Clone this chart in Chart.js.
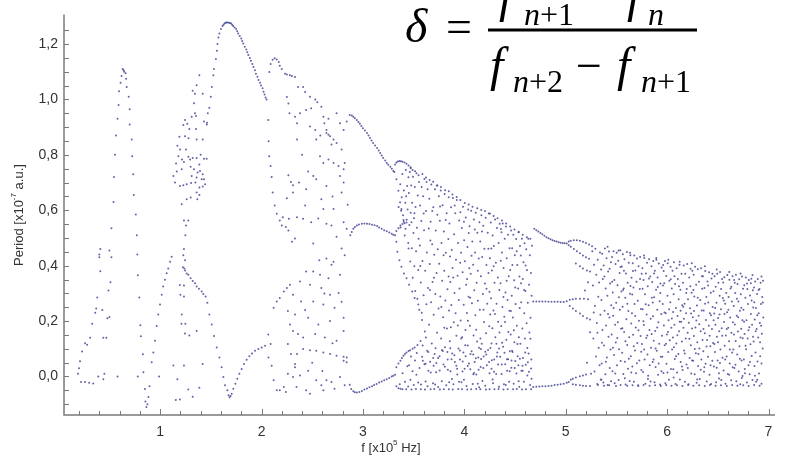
<!DOCTYPE html>
<html><head><meta charset="utf-8">
<script src="https://cdn.jsdelivr.net/npm/chart.js@4.4.1/dist/chart.umd.min.js"></script>
<style>html,body{margin:0;padding:0;background:#fff}#wrap{position:relative;width:787px;height:457px}</style>
</head><body><div id="wrap"><canvas id="c"></canvas></div>
<script>
// ---- data (x in 10^5 Hz, y = period in 10^-7 a.u.), flat [x,y, x,y, ...] ----
const loop1 = [.19,.01,.20,.03,.21,.055,.23,.09,.26,.12,.28,.115,.31,.14,.33,.19,.36,.23,.37,.245,.38,.285,.41,.38,.40,.44,.41,.46,.40,.43,.43,.24,.44,.14,.47,.14,.45,.01,.44,-.01,.48,.21,.50,.215,.49,.31,.51,.34,.52,.43,.50,.455,.22,-.02,.26,-.02,.30,-.023,.34,-.025,.39,0,.58,0,.78,0,.99,0];
const spike = [.52,.535,.54,.63,.545,.72,.555,.80,.565,.87,.58,.93,.59,.98,.595,1.03,.61,1.06,.62,1.085,.63,1.11,.64,1.105,.645,1.10,.66,1.095,.665,1.075,.67,1.045,.69,1.01,.70,.965,.70,.91,.72,.855,.725,.795,.735,.73,.74,.655,.76,.585,.77,.51,.775,.44,.78,.365,.795,.285,.805,.185,.81,.145,.83,.08,.835,.015,.85,-.045,.855,-.09,.865,-.11,.875,-.10,.885,-.074,.895,-.035,.917,.051,.933,.087,.95,.129,.966,.182,.982,.224,.999,.26,1.016,.295,1.03,.325,1.048,.349,1.065,.373,1.08,.39,1.098,.414,1.114,.432];
const cloud2up = [1.387,1.087,1.36,1.051,1.321,1.031,1.344,1.021,1.42,1.021,1.334,.986,1.344,.95,1.354,.94,1.246,.926,1.311,.938,1.268,.912,1.433,.92,1.462,.916,1.229,.908,1.288,.893,1.354,.893,1.19,.865,1.246,.867,1.36,.855,1.42,.855,1.17,.833,1.196,.819,1.255,.819,1.18,.795,1.157,.769,1.216,.783,1.235,.774,1.278,.793,1.295,.783,1.321,.789,1.36,.789,1.387,.765,1.433,.786,1.459,.786,1.213,.748,1.301,.757,1.334,.748,1.37,.736,1.393,.742,1.42,.73,1.131,.724,1.311,.724,1.36,.718,1.41,.712,1.433,.712,1.443,.694,1.42,.686,1.387,.682,1.348,.70,1.305,.698,1.262,.694,1.229,.69,1.196,.688,1.36,.664,1.387,.655,1.367,.64,1.301,.646,1.262,.64,1.213,.622,1.278,.563,1.235,.563,1.255,.545,1.249,.51,1.147,.70,1.164,.74,1.40,.80,1.28,.86];
const cloud2low = [1.229,.438,1.246,.42,1.235,.46,1.2,.295,1.235,.289,1.213,.224,1.249,.19,1.288,.148,1.36,.164,1.42,.045,1.131,.04,1.235,.04,1.155,-.085,1.195,-.083,1.278,-.047,1.321,-.073,1.387,-.041,1.21,.19,1.245,.155,1.195,.33,1.235,.328,1.17,-.01];
const bigArc = [1.46,.91,1.47,.95,1.485,.97,1.50,1.01,1.51,1.045,1.525,1.087,1.53,1.11,1.55,1.146,1.56,1.176,1.565,1.20,1.575,1.224,1.585,1.238,1.60,1.254,1.615,1.265,1.625,1.27,1.635,1.274,1.645,1.277,1.655,1.278,1.665,1.278,1.68,1.277,1.69,1.276,1.70,1.274,1.71,1.27,1.72,1.265,1.735,1.26,1.75,1.254,1.76,1.246,1.77,1.238,1.785,1.229,1.80,1.22,1.81,1.211,1.82,1.202,1.835,1.19,1.85,1.18,1.86,1.17,1.87,1.16,1.885,1.15,1.895,1.14,1.91,1.128,1.92,1.117,1.935,1.105,1.945,1.093,1.96,1.082,1.97,1.07,1.985,1.06,1.995,1.05,2.01,1.04,2.02,1.028,2.03,1.018,2.04,1.007,2.05,1.0];
const vCurve = [1.225,.394,1.239,.39,1.246,.383,1.262,.372,1.278,.367,1.301,.355,1.321,.345,1.344,.337,1.36,.325,1.383,.317,1.41,.307,1.426,.298,1.449,.289,1.466,.266,1.486,.224,1.509,.188,1.532,.146,1.558,.105,1.585,.069,1.607,.033,1.624,-.002,1.64,-.032,1.663,-.05,1.675,-.068,1.685,-.075,1.695,-.07,1.706,-.062,1.722,-.044,1.742,-.026,1.761,-.008,1.781,.01,1.804,.027,1.827,.045,1.854,.06,1.88,.073,1.906,.083,1.936,.093,1.969,.099,2.002,.105,2.035,.111];
const arc2 = [2.077,1.099,2.09,1.128,2.11,1.143,2.13,1.149,2.15,1.144,2.17,1.135,2.18,1.122,2.20,1.11];
const cloud3up = [2.067,.926,2.07,.849,2.075,.795,2.09,.76,2.10,.72,2.11,.664,2.13,.617,2.15,.587,2.18,.563,2.20,.545,2.24,.54,2.265,.527,2.30,.486,2.21,.575,2.27,.569,2.232,1.093,2.25,1.09,2.28,1.087,2.30,1.085,2.33,1.081,2.36,1.045,2.25,1.009,2.276,.95,2.33,.938,2.35,.914,2.265,.985,2.35,.855,2.265,.726,2.29,.702,2.31,.69,2.25,.643,2.41,1.045,2.43,1.027,2.478,1.01,2.53,1.0,2.55,.99,2.59,.974,2.61,.938,2.62,.914,2.64,.89,2.66,.873,2.71,.855,2.774,.914,2.81,.89,2.84,.92,2.38,.95,2.44,.962,2.49,.968,2.478,.902,2.53,.89,2.54,.855,2.64,.879,2.676,.867,2.69,.837,2.74,.843,2.79,.819,2.82,.771,2.577,.795,2.61,.771,2.66,.783,2.71,.771,2.76,.76,2.81,.748,2.51,.724,2.54,.712,2.774,.724,2.81,.70,2.64,.688,2.31,.664,2.43,.617,2.44,.676,2.59,.64,2.61,.605,2.71,.605,2.79,.664,2.35,.575,2.41,.569,2.49,.557,2.64,.551,2.69,.545,2.81,.557,2.84,.533,2.33,.498,2.51,.48,2.74,.504,2.79,.462,2.82,.438,2.40,.80,2.46,.74,2.56,.57,2.70,.65,2.85,.62,2.37,.70,2.58,.87,2.74,.95,2.66,.93];
const cloud3low = [2.067,.152,2.09,.117,2.068,.069,2.10,.039,2.12,-.014,2.15,-.05,2.18,-.05,2.22,-.038,2.24,-.056,2.12,.248,2.15,.271,2.18,.283,2.22,.307,2.25,.319,2.28,.331,2.26,.236,2.28,.188,2.31,.164,2.26,.117,2.29,.081,2.33,.045,2.26,.01,2.31,-.002,2.345,-.038,2.64,.426,2.71,.414,2.69,.403,2.44,.379,2.51,.379,2.577,.367,2.66,.355,2.774,.367,2.38,.343,2.478,.331,2.59,.319,2.676,.295,2.76,.301,2.31,.295,2.39,.271,2.51,.271,2.61,.26,2.72,.248,2.33,.224,2.46,.212,2.56,.188,2.676,.20,2.81,.164,2.36,.153,2.41,.141,2.53,.153,2.625,.141,2.74,.129,2.81,.212,2.41,.099,2.478,.095,2.54,.093,2.61,.087,2.676,.081,2.74,.075,2.81,.071,2.84,.069,2.35,.081,2.33,.033,2.38,.004,2.46,.021,2.54,-.014,2.59,-.032,2.64,-.014,2.72,-.044,2.774,-.002,2.82,-.032,2.44,-.05,2.478,-.062,2.61,-.05,2.69,-.02,2.81,.057,2.84,.051,2.43,.24,2.57,.42,2.62,.30,2.79,.27,2.70,.12,2.50,.05,2.60,.02];
const arc3 = [2.87,.944,2.89,.942,2.905,.938,2.92,.932,2.94,.926,2.955,.919,2.97,.912,2.985,.904,3.0,.896,3.02,.888,3.04,.879,3.055,.87,3.07,.861,3.085,.852,3.10,.843,3.12,.834,3.14,.825,3.155,.816,3.17,.807,3.185,.798,3.20,.789,3.22,.78,3.235,.771,3.25,.764,3.27,.757,3.285,.75,3.30,.742,3.31,.738,3.317,.765,3.33,.772,3.345,.776,3.36,.778,3.375,.777,3.39,.775,3.41,.772,3.43,.768,3.45,.762,3.47,.755,3.49,.745,3.33,.712,3.35,.67,3.366,.629,3.38,.605,3.40,.565,3.42,.533,3.45,.462];
const mid3 = [2.875,.51,2.89,.522,2.905,.533,2.92,.54,2.94,.545,2.96,.549,2.99,.551,3.015,.552,3.04,.551,3.065,.55,3.09,.548,3.115,.546,3.14,.543,3.16,.538,3.185,.533,3.21,.528,3.235,.524,3.26,.52,3.284,.515,3.30,.512,3.317,.51,3.33,.525,3.35,.535,3.37,.545,3.39,.55,3.41,.553,3.43,.556,3.33,.486,3.34,.45,3.36,.42,3.38,.396,3.405,.372,3.43,.355,3.455,.331,3.486,.307,3.51,.283,3.546,.26,3.58,.23];
const bot3 = [2.87,-.03,2.885,-.045,2.905,-.053,2.92,-.057,2.94,-.058,2.965,-.056,2.99,-.052,3.015,-.047,3.04,-.043,3.065,-.039,3.09,-.035,3.11,-.031,3.135,-.027,3.16,-.022,3.185,-.018,3.21,-.014,3.235,-.01,3.26,-.005,3.284,0,3.30,.003,3.317,.006,3.33,.033,3.35,.047,3.37,.057,3.385,.067,3.40,.075,3.415,.081,3.43,.087,3.45,.092,3.465,.095,3.49,.10,3.51,.105,3.33,-.035,3.35,-.042,3.37,-.044,3.39,-.046];
const chaos4a = [3.352,.612,3.368,.694,3.371,.538,3.383,.647,3.389,.731,3.396,.582,3.404,.671,3.412,.509,3.418,.627,3.423,.745,3.431,.566,3.436,.688,3.441,.603,3.447,.482,3.449,.719,3.377,.598,3.402,.559,3.427,.651,3.363,-.028,3.391,.012,3.415,-.019,3.438,.037,3.446,-.036,
3.453,.662,3.458,.547,3.462,.738,3.467,.415,3.471,.591,3.476,.689,3.482,.463,3.486,.627,3.491,.356,3.494,.721,3.498,.518,3.503,.571,3.507,.398,3.512,.684,3.516,.309,3.519,.612,3.524,.452,3.528,.734,3.533,.537,3.537,.281,3.541,.653,3.546,.384,3.549,.497,3.455,.041,3.468,-.012,3.474,.072,3.489,.019,3.501,-.031,3.514,.058,3.527,.006,3.538,.114,3.545,-.022,3.531,.085,3.508,.589,3.479,.557,
3.553,.702,3.556,.241,3.561,.473,3.564,.617,3.568,.128,3.571,.339,3.576,.561,3.579,.684,3.583,.204,3.587,.417,3.591,.057,3.594,.651,3.598,.293,3.603,.528,3.606,.713,3.611,.162,3.614,.382,3.618,-.018,3.622,.597,3.626,.261,3.631,.448,3.634,.093,3.638,.676,3.642,.319,3.646,.021,3.649,.534,3.558,.031,3.573,-.029,3.589,.112,3.607,.044,3.621,.141,3.637,-.035,3.599,.588,3.627,.702,3.566,.399];
const chaos4b = [3.652,.187,3.655,.642,3.659,.406,3.663,.053,3.668,.559,3.672,.268,3.675,.693,3.679,.119,3.683,.477,3.687,.341,3.691,-.024,3.694,.611,3.698,.223,3.703,.439,3.707,.081,3.711,.676,3.714,.298,3.718,.527,3.722,.015,3.726,.374,3.731,.158,3.734,.584,3.738,.459,3.742,-.038,3.746,.245,3.749,.651,3.661,.312,3.684,.597,3.697,.039,3.716,.102,3.729,.689,3.741,.067,3.665,.491,3.701,.356,
3.752,.407,3.756,.073,3.759,.562,3.763,.289,3.767,.671,3.771,.137,3.775,.482,3.778,-.017,3.782,.346,3.786,.618,3.791,.214,3.794,.043,3.798,.523,3.802,.382,3.806,.659,3.809,.106,3.813,.274,3.818,.447,3.822,-.032,3.826,.589,3.829,.173,3.834,.315,3.838,.024,3.842,.496,3.846,.647,3.849,.238,3.761,.614,3.788,.092,3.803,.176,3.817,.565,3.833,.088,3.845,.361,3.773,.251,3.796,.438,
3.853,.552,3.857,.127,3.861,.341,3.864,.019,3.869,.611,3.872,.258,3.876,.457,3.881,.083,3.884,.392,3.888,.644,3.892,-.028,3.896,.196,3.899,.513,3.903,.301,3.907,.052,3.911,.589,3.914,.228,3.918,.421,3.922,.147,3.926,.637,3.931,.007,3.934,.364,3.938,.482,3.942,.101,3.946,.276,3.949,.563,3.859,.433,3.874,.062,3.891,.357,3.905,.617,3.921,.039,3.936,.184,3.948,-.019,3.867,.178];
const chaos4c = [3.953,.318,3.956,.061,3.961,.593,3.964,.202,3.968,.447,3.972,-.021,3.976,.536,3.979,.142,3.983,.376,3.987,.613,3.991,.087,3.994,.259,3.998,.492,4.003,.028,4.006,.416,4.011,.168,4.014,.574,4.018,.331,4.022,-.034,4.026,.229,4.031,.467,4.034,.112,4.038,.603,4.042,.288,4.046,.047,4.049,.391,3.959,.411,3.982,.018,3.996,.559,4.013,.073,4.027,.352,4.044,.518,3.969,.137,4.035,.201,
4.052,.542,4.055,.183,4.059,.026,4.063,.371,4.068,.598,4.072,.091,4.075,.264,4.079,.487,4.083,-.027,4.087,.403,4.091,.148,4.094,.567,4.098,.311,4.102,.052,4.106,.448,4.109,.221,4.113,.591,4.118,.007,4.122,.338,4.126,.126,4.129,.519,4.134,.273,4.138,.069,4.142,.426,4.146,-.039,4.149,.557,4.058,.284,4.071,.436,4.088,.079,4.103,.531,4.117,.169,4.133,.382,4.145,.104,4.096,.013,
4.153,.241,4.157,.487,4.161,.034,4.164,.362,4.168,.582,4.172,.118,4.176,.431,4.179,-.016,4.183,.298,4.187,.544,4.191,.072,4.194,.197,4.198,.461,4.203,.336,4.206,-.033,4.211,.573,4.214,.156,4.218,.402,4.222,.041,4.226,.263,4.231,.519,4.234,.096,4.238,.374,4.242,.588,4.246,.181,4.249,.012,4.159,.137,4.174,.523,4.189,.241,4.207,.089,4.219,.317,4.237,.461,4.248,.306,4.166,.063];
const chaos4d = [4.253,.427,4.257,.103,4.261,.556,4.264,.282,4.268,.028,4.272,.383,4.276,.174,4.279,.509,4.283,-.024,4.287,.238,4.291,.471,4.294,.061,4.298,.338,4.303,.567,4.306,.142,4.311,.411,4.314,.009,4.318,.263,4.322,.536,4.326,.087,4.331,.357,4.334,.198,4.338,.482,4.342,-.037,4.346,.312,4.349,.551,4.256,.224,4.271,.059,4.289,.398,4.302,.226,4.317,.118,4.333,.043,4.347,.159,4.266,.462,
4.353,.071,4.357,.337,4.361,.532,4.364,.182,4.368,.009,4.372,.448,4.376,.251,4.379,.552,4.383,.107,4.387,.392,4.391,-.028,4.394,.216,4.398,.497,4.403,.044,4.406,.303,4.411,.541,4.414,.133,4.418,.427,4.422,.021,4.426,.276,4.431,.512,4.434,.161,4.438,.362,4.442,-.019,4.446,.463,4.449,.091,4.359,.418,4.373,.122,4.386,.287,4.401,.197,4.417,.346,4.432,.062,4.445,.237,4.367,.521,
4.453,.384,4.457,.152,4.461,.527,4.464,.032,4.468,.291,4.472,.463,4.476,.088,4.479,.213,4.483,.512,4.487,-.026,4.491,.347,4.494,.124,4.498,.438,4.503,.056,4.506,.262,4.511,.496,4.514,.011,4.518,.183,4.522,.402,4.526,.073,4.531,.318,4.534,.521,4.538,.142,4.542,-.037,4.546,.247,4.549,.471,4.459,.236,4.474,.402,4.488,.167,4.502,.321,4.517,.452,4.533,.041,4.544,.361,4.466,.058,
4.553,.118,4.557,.437,4.561,.268,4.564,.021,4.568,.497,4.572,.173,4.576,.352,4.579,.067,4.583,.412,4.587,-.019,4.591,.228,4.594,.481,4.598,.137,4.603,.309,4.606,.042,4.611,.459,4.614,.192,4.618,.384,4.622,.004,4.626,.266,4.631,.497,4.634,.083,4.638,.331,4.642,.159,4.646,.438,4.649,-.031,4.653,.212,4.657,.374,4.661,.061,4.664,.291,4.668,.472,4.559,.337,4.575,.021,4.589,.312,4.604,.401,4.621,.103,4.637,.017,4.652,.136];
const band4 = [3.583,.071,3.617,.046,3.644,.088,3.669,.014,3.693,.067,3.724,.049,3.757,.022,3.779,.096,3.808,.035,3.836,.061,3.862,.102,3.878,-.009,3.902,.077,3.929,.028,3.957,.094,3.984,.054,4.009,.113,4.033,.038,4.061,.081,4.089,.008,4.114,.066,4.141,.024,4.163,.099,4.188,.031,4.216,.079,4.244,.052,4.268,.119,4.293,.017,4.321,.072,4.343,.101,4.369,.043,4.396,.086,4.421,.062,4.448,.019,4.471,.093,4.497,.031,4.523,.117,4.548,.064,4.574,.039,4.601,.087,4.627,.051,4.658,.029,3.712,-.029,3.851,-.021,3.996,-.012,4.133,-.026,4.279,-.011,4.409,-.031,4.536,-.017,4.663,-.008,
3.472,.752,3.514,.741,3.548,.726,3.587,.731,3.622,.718,3.658,.709,3.693,.703,3.735,.689,3.769,.684,3.811,.672,3.847,.669,3.883,.657,3.924,.648,3.961,.637,4.004,.626,4.043,.621,4.081,.613,4.127,.607,4.167,.601,4.204,.597,4.252,.588,4.289,.579,4.327,.571,4.371,.563,4.413,.552,4.452,.541,4.494,.531,4.538,.522,4.576,.512,4.617,.503,4.651,.497];
const floor4 = [3.427,-.046,3.479,-.047,3.523,-.045,3.571,-.046,3.612,-.047,3.668,-.046,3.704,-.045,3.759,-.047,3.798,-.046,3.847,-.046,3.886,-.047,3.941,-.045,3.977,-.046,4.029,-.047,4.068,-.046,4.117,-.045,4.158,-.046,4.213,-.047,4.249,-.046,4.297,-.046,4.338,-.045,4.386,-.047,4.428,-.046,4.481,-.046,4.517,-.045,4.569,-.047,4.608,-.046,4.659,-.046];
const win5 = [4.69,.533,4.71,.528,4.73,.523,4.75,.518,4.77,.513,4.79,.508,4.81,.503,4.83,.499,4.85,.495,4.87,.492,4.89,.489,4.91,.487,4.93,.485,4.95,.483,4.97,.482,4.99,.481,5.01,.48,5.03,.487,5.05,.49,5.08,.492,5.11,.492,5.14,.49,5.17,.486,5.20,.482,5.23,.476,5.26,.47,5.03,.474,5.05,.468,5.08,.46,5.11,.452,5.14,.445,5.17,.437,5.20,.43,5.23,.425,5.10,.408,5.14,.398,5.17,.39,5.21,.383,5.24,.379,4.68,.271,4.71,.271,4.74,.271,4.77,.271,4.80,.271,4.83,.27,4.86,.27,4.89,.27,4.92,.27,4.95,.269,4.98,.269,5.01,.272,5.04,.277,5.07,.279,5.10,.281,5.14,.281,5.18,.281,5.22,.279,5.04,.254,5.07,.245,5.10,.236,5.14,.227,5.17,.218,5.21,.21,5.24,.206,4.68,-.038,4.71,-.037,4.74,-.036,4.77,-.035,4.80,-.035,4.83,-.034,4.86,-.033,4.89,-.031,4.92,-.03,4.95,-.028,4.98,-.026,5.01,-.023,5.03,-.02,5.05,-.012,5.07,-.008,5.10,-.004,5.14,.001,5.17,.004,5.20,.007,5.25,.01,5.07,-.028,5.10,-.03,5.14,-.032,5.17,-.033,5.20,-.034,5.24,-.034,5.19,.31,5.22,.34,5.24,.16,5.21,.05];
const chaos5a = [5.262,.452,5.268,.328,5.273,.137,5.279,.403,5.284,.018,5.288,.254,5.293,.461,5.298,.072,5.302,.367,5.307,.193,5.311,-.027,5.316,.421,5.321,.288,5.325,.104,5.329,.339,5.334,.041,5.338,.448,5.342,.223,5.346,-.011,5.349,.386,5.313,.158,5.276,.231,
5.352,.276,5.355,.047,5.359,.443,5.362,.168,5.366,.352,5.371,-.022,5.374,.401,5.378,.112,5.383,.237,5.386,.462,5.391,.008,5.394,.318,5.398,.184,5.403,.427,5.406,.069,5.411,.291,5.414,-.031,5.418,.379,5.422,.143,5.426,.451,5.431,.213,5.434,.031,5.438,.336,5.442,.097,5.446,.412,5.449,.257,5.357,.122,5.381,.361,5.396,.053,5.417,.226,5.433,.389,5.447,-.017,
5.453,.152,5.457,.431,5.461,.019,5.464,.303,5.468,.219,5.472,.452,5.476,.078,5.479,.348,5.483,-.024,5.487,.187,5.491,.406,5.494,.123,5.498,.266,5.503,.447,5.506,.041,5.511,.329,5.514,.196,5.518,.418,5.522,-.013,5.526,.098,5.531,.374,5.534,.241,5.538,.456,5.542,.056,5.546,.172,5.549,.307,5.458,.342,5.473,.247,5.489,.011,5.509,.139,5.524,.286,5.541,.395,5.466,.104,
5.553,.397,5.557,.086,5.561,.252,5.564,.441,5.568,.009,5.572,.318,5.576,.161,5.579,.423,5.583,.053,5.587,.284,5.591,-.029,5.594,.372,5.598,.207,5.603,.449,5.606,.114,5.611,.338,5.614,.028,5.618,.236,5.622,.411,5.626,.142,5.631,-.016,5.634,.299,5.638,.438,5.642,.073,5.646,.191,5.649,.356,5.559,.174,5.574,.382,5.589,.127,5.608,.263,5.623,.064,5.639,.327,5.647,.014,5.566,.312];
const chaos5b = [5.653,.228,5.657,.036,5.661,.409,5.664,.151,5.668,.321,5.672,-.019,5.676,.437,5.679,.262,5.683,.094,5.687,.383,5.691,.177,5.694,.012,5.698,.342,5.703,.426,5.706,.121,5.711,.273,5.714,-.032,5.718,.398,5.722,.201,5.726,.058,5.731,.316,5.734,.431,5.738,.146,5.742,.244,5.746,.023,5.749,.371,5.656,.296,5.671,.109,5.686,.218,5.702,.048,5.717,.167,5.733,.352,5.745,.089,5.663,.381,
5.752,.117,5.756,.391,5.759,.243,5.763,.016,5.767,.348,5.771,.186,5.775,.428,5.778,.061,5.782,.297,5.786,-.026,5.791,.372,5.794,.139,5.798,.224,5.802,.411,5.806,.079,5.809,.326,5.813,.003,5.818,.257,5.822,.423,5.826,.168,5.829,.041,5.834,.361,5.838,.208,5.842,.104,5.846,.398,5.849,.284,5.758,.317,5.773,.097,5.789,.261,5.804,.148,5.821,.354,5.837,-.018,5.848,.153,5.766,.199,
5.853,.341,5.857,.052,5.861,.217,5.864,.417,5.868,.129,5.872,.286,5.876,-.021,5.879,.382,5.883,.164,5.887,.034,5.891,.313,5.894,.421,5.898,.093,5.903,.241,5.906,.357,5.911,.006,5.914,.196,5.918,.408,5.922,.118,5.926,.272,5.931,-.029,5.934,.336,5.938,.071,5.942,.226,5.946,.393,5.949,.147,5.859,.267,5.871,.372,5.886,.101,5.902,.177,5.917,.047,5.933,.301,5.944,.019,5.866,.061,5.908,.323,
5.953,.071,5.957,.262,5.961,.402,5.964,.013,5.968,.184,5.972,.337,5.976,.113,5.979,.417,5.983,-.024,5.987,.228,5.991,.363,5.994,.046,5.998,.152,6.003,.291,6.006,.409,6.011,.088,6.014,.203,6.018,-.012,6.022,.346,6.026,.131,6.031,.268,6.034,.396,6.038,.027,6.042,.176,6.046,.318,6.049,.097,5.959,.328,5.974,.231,5.989,.118,6.004,.014,6.019,.243,6.036,.351,6.047,.209,5.966,.381,6.009,.161];
const chaos5c = [6.053,.382,6.057,.141,6.061,.026,6.064,.297,6.068,.412,6.072,.187,6.076,.063,6.079,.334,6.083,-.027,6.087,.247,6.091,.119,6.094,.391,6.098,.014,6.103,.218,6.106,.352,6.111,.081,6.114,.279,6.118,.163,6.122,.403,6.126,-.011,6.131,.313,6.134,.052,6.138,.198,6.142,.371,6.146,.126,6.149,.257,6.059,.233,6.073,.362,6.088,.073,6.101,.149,6.117,.326,6.133,.237,6.147,.036,6.067,.106,6.124,.198,
6.153,.023,6.157,.338,6.161,.176,6.164,.401,6.168,.094,6.172,.263,6.176,-.019,6.179,.371,6.183,.137,6.187,.228,6.191,.043,6.194,.316,6.198,.406,6.203,.158,6.206,.279,6.211,-.028,6.214,.194,6.218,.357,6.222,.067,6.226,.246,6.231,.389,6.234,.113,6.238,.011,6.242,.302,6.246,.173,6.249,.382,6.159,.252,6.174,.083,6.189,.301,6.204,.031,6.219,.136,6.236,.227,6.247,.058,6.166,.208,6.229,.326,
6.253,.214,6.257,.057,6.261,.367,6.264,.146,6.268,.289,6.272,.008,6.276,.396,6.279,.177,6.283,.084,6.287,.331,6.291,-.023,6.294,.256,6.298,.124,6.303,.387,6.306,.038,6.311,.219,6.314,.342,6.318,.101,6.322,-.009,6.326,.276,6.331,.163,6.334,.391,6.338,.061,6.342,.238,6.346,.317,6.349,.132,6.259,.312,6.273,.099,6.288,.202,6.302,.284,6.317,.189,6.332,.024,6.344,.362,6.266,.236,6.309,.081,
6.353,.362,6.357,.091,6.361,.238,6.364,.017,6.368,.319,6.372,.156,6.376,.381,6.379,.046,6.383,.204,6.387,.287,6.391,-.018,6.394,.132,6.398,.343,6.403,.071,6.406,.267,6.411,.183,6.414,.376,6.418,.006,6.422,.228,6.426,.109,6.431,.302,6.434,-.027,6.438,.354,6.442,.171,6.446,.057,6.449,.251,6.359,.171,6.374,.263,6.389,.108,6.404,.328,6.419,.147,6.433,.221,6.447,.371,6.367,.033,6.428,.041];
const chaos5d = [6.453,.121,6.457,.308,6.461,.036,6.464,.227,6.468,.362,6.472,.088,6.476,.187,6.479,.324,6.483,-.021,6.487,.266,6.491,.143,6.494,.371,6.498,.058,6.503,.211,6.506,.338,6.511,.012,6.514,.163,6.518,.291,6.522,.377,6.526,.097,6.531,.243,6.534,-.013,6.538,.174,6.542,.352,6.546,.068,6.549,.283,6.459,.203,6.474,.247,6.489,.032,6.502,.124,6.517,.224,6.532,.316,6.544,.147,6.466,.117,6.521,.049,
6.553,.339,6.557,.022,6.561,.197,6.564,.358,6.568,.111,6.572,.263,6.576,-.026,6.579,.148,6.583,.301,6.587,.072,6.591,.232,6.594,.366,6.598,.009,6.603,.176,6.606,.287,6.611,.127,6.614,.349,6.618,.047,6.622,.213,6.626,.318,6.631,-.014,6.634,.158,6.638,.271,6.642,.087,6.646,.362,6.649,.196,6.559,.274,6.573,.061,6.588,.171,6.604,.241,6.619,.097,6.633,.324,6.647,.033,6.566,.226,6.612,.006,
6.653,.097,6.657,.254,6.661,.348,6.664,.031,6.668,.188,6.672,.301,6.676,.128,6.679,.367,6.683,-.017,6.687,.219,6.691,.079,6.694,.334,6.698,.162,6.703,.271,6.706,.018,6.711,.351,6.714,.109,6.718,.237,6.722,-.028,6.726,.297,6.731,.172,6.734,.058,6.738,.361,6.742,.203,6.746,.138,6.749,.317,6.659,.152,6.674,.042,6.688,.281,6.701,.214,6.717,.064,6.732,.248,6.744,.002,6.667,.338,6.724,.141,
6.753,.241,6.757,.061,6.761,.329,6.764,.153,6.768,.012,6.772,.284,6.776,.357,6.779,.098,6.783,.203,6.787,-.022,6.791,.316,6.794,.137,6.798,.262,6.803,.041,6.806,.348,6.811,.178,6.814,.008,6.818,.292,6.822,.116,6.826,.226,6.831,.353,6.834,.074,6.838,.187,6.842,-.013,6.846,.311,6.849,.249,6.759,.198,6.773,.111,6.788,.336,6.802,.167,6.817,.052,6.833,.274,6.847,.143,6.766,.027,6.826,.337,
6.853,.126,6.857,.321,6.861,.038,6.864,.206,6.868,.343,6.872,.087,6.876,.247,6.879,-.019,6.883,.171,6.887,.298,6.891,.054,6.894,.352,6.898,.141,6.903,.228,6.906,.011,6.911,.316,6.914,.193,6.918,.073,6.922,.338,6.926,.262,6.931,-.026,6.934,.154,6.938,.287,6.942,.101,6.946,.346,6.949,.213,6.859,.268,6.874,.163,6.889,.221,6.902,.312,6.917,.124,6.931,.047,6.944,.267,6.866,.003,6.927,.183];
const floor5 = [5.318,-.031,5.377,-.033,5.428,-.032,5.496,-.034,5.541,-.031,5.607,-.033,5.659,-.032,5.716,-.034,5.768,-.031,5.827,-.033,5.881,-.032,5.937,-.034,5.991,-.031,6.043,-.033,6.097,-.032,6.152,-.034,6.207,-.031,6.259,-.033,6.316,-.032,6.371,-.034,6.423,-.031,6.478,-.033,6.531,-.032,6.589,-.034,6.642,-.031,6.693,-.033,6.751,-.032,6.804,-.034,6.858,-.031,6.912,-.033,5.352,-.012,5.583,-.006,5.811,-.009,6.064,-.004,6.297,-.011,6.512,-.007,6.737,-.005,6.889,-.012,
5.413,.468,5.521,.455,5.634,.447,5.772,.437,5.893,.428,6.012,.421,6.124,.414,6.243,.409,6.372,.398,6.489,.386,6.613,.377,6.724,.372,6.842,.366,6.931,.361];
const xTickLabels = ['1','2','3','4','5','6','7'];
const yLabelSep = ',';

const allSeries = [loop1, spike, cloud2up, cloud2low, bigArc, vCurve, arc2, cloud3up, cloud3low, arc3, mid3, bot3, chaos4a, chaos4b, chaos4c, chaos4d, band4, floor4, win5, chaos5a, chaos5b, chaos5c, chaos5d, floor5];
const toPts = a => { const o = []; for (let i = 0; i < a.length; i += 2) o.push({x: a[i], y: a[i + 1]}); return o; };
const DOT = 'rgba(72,72,150,0.85)';
const datasets = allSeries.map(a => ({data: toPts(a), showLine: false, pointRadius: 1.0, pointHoverRadius: 1.0, pointBorderWidth: 0, pointBackgroundColor: DOT, borderColor: DOT}));

function drawSub(ctx, parts, x, y) {
  let cx = x;
  for (const [t, f, dy] of parts) { ctx.font = f; ctx.fillText(t, cx, y + dy); cx += ctx.measureText(t).width; }
  return cx;
}
function partsWidth(ctx, parts) { let w = 0; for (const [t, f] of parts) { ctx.font = f; w += ctx.measureText(t).width; } return w; }

const decor = {
  id: 'decor',
  afterDraw(chart) {
    const {ctx, chartArea: a, scales: {x, y}} = chart;
    ctx.save();
    ctx.strokeStyle = '#7a7a7a';
    ctx.lineWidth = 1;
    for (let k = 1; k <= 35; k++) {
      const px = Math.round(x.getPixelForValue(k * 0.2)) + 0.5;
      if (px > a.right) break;
      const len = (k % 5 === 0) ? 6 : 4;
      ctx.beginPath(); ctx.moveTo(px, a.bottom); ctx.lineTo(px, a.bottom - len); ctx.stroke();
    }
    for (let k = -2; k <= 25; k++) {
      const py = Math.round(y.getPixelForValue(k * 0.05)) + 0.5;
      ctx.beginPath(); ctx.moveTo(a.left, py); ctx.lineTo(a.left + 5, py); ctx.stroke();
    }
    ctx.lineWidth = 1.5;
    ctx.beginPath(); ctx.moveTo(a.left, a.top); ctx.lineTo(a.left, a.bottom); ctx.lineTo(a.right, a.bottom); ctx.stroke();

    ctx.fillStyle = '#333';
    ctx.textBaseline = 'middle';
    const F = '13px "Liberation Sans", Arial, sans-serif', S = '8px "Liberation Sans", Arial, sans-serif';
    const xt = [['f [x10', F, 0], ['5', S, -5], [' Hz]', F, 0]];
    drawSub(ctx, xt, 391 - partsWidth(ctx, xt) / 2, 448);
    ctx.save();
    ctx.translate(19, 215); ctx.rotate(-Math.PI / 2);
    const yt = [['Period [x10', F, 0], ['-7', S, -5], [' a.u.]', F, 0]];
    drawSub(ctx, yt, -partsWidth(ctx, yt) / 2, 0);
    ctx.restore();

    ctx.fillStyle = '#000';
    ctx.textBaseline = 'alphabetic';
    const IT = 'italic 48px "Liberation Serif", "Times New Roman", serif';
    const RM = '46px "Liberation Serif", "Times New Roman", serif';
    const si = 'italic 32px "Liberation Serif", serif', sr = '32px "Liberation Serif", serif';
    ctx.font = IT; ctx.fillText('\u03B4', 405, 42);
    ctx.font = RM; ctx.fillText('=', 446, 42);
    ctx.fillRect(488, 28.5, 209, 3);
    ctx.font = IT; ctx.fillText('f', 499, 12);
    drawSub(ctx, [['n', si, 0], ['+1', sr, 0]], 524, 25);
    ctx.font = RM; ctx.fillText('\u2212', 588, 8);
    ctx.font = IT; ctx.fillText('f', 627, 12);
    drawSub(ctx, [['n', si, 0]], 648, 25);
    ctx.font = IT; ctx.fillText('f', 490, 81);
    drawSub(ctx, [['n', si, 0], ['+2', sr, 0]], 513, 92);
    ctx.font = RM; ctx.fillText('\u2212', 576, 81);
    ctx.font = IT; ctx.fillText('f', 617, 81);
    drawSub(ctx, [['n', si, 0], ['+1', sr, 0]], 641, 92);
    ctx.restore();
  }
};

new Chart(document.getElementById('c'), {
  type: 'scatter',
  data: {datasets},
  options: {
    responsive: true, maintainAspectRatio: false, animation: false,
    events: [],
    layout: {padding: {top: 10, right: 12, left: 0, bottom: 0}},
    plugins: {legend: {display: false}, tooltip: {enabled: false}},
    scales: {
      x: {type: 'linear', min: 0.052, max: 7.064,
          grid: {display: false, drawTicks: false}, border: {display: false},
          ticks: {stepSize: 1, includeBounds: false, padding: 9, color: '#333', font: {family: '"Liberation Sans", Arial, sans-serif', size: 14},
                  callback: v => (Number.isInteger(v) && v >= 1 && v <= 7) ? xTickLabels[v - 1] : null},
          afterFit: s => { s.height = 42; }},
      y: {type: 'linear', min: -0.139, max: 1.307,
          grid: {display: false, drawTicks: false}, border: {display: false},
          ticks: {stepSize: 0.2, includeBounds: false, padding: 6, color: '#333', font: {family: '"Liberation Sans", Arial, sans-serif', size: 14},
                  callback: v => (Math.round(v * 10) / 10).toFixed(1).replace('.', yLabelSep).replace('-0,0', '0,0')},
          afterFit: s => { s.width = 64; }}
    }
  },
  plugins: [decor]
});
</script></body></html>
